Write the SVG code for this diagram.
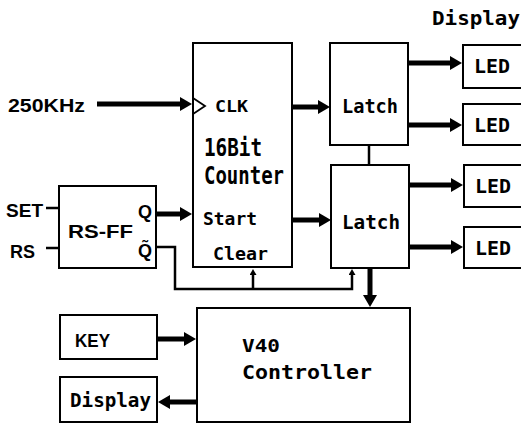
<svg xmlns="http://www.w3.org/2000/svg" width="521" height="424" viewBox="0 0 521 424">
  <style>
    .box { fill: #fff; stroke: #000; stroke-width: 2; }
    .thick { fill: none; stroke: #000; stroke-width: 5; marker-end: url(#bigArrow); }
    .thin { fill: none; stroke: #000; stroke-width: 2.5; }
    .thinarrow { fill: none; stroke: #000; stroke-width: 2.5; marker-end: url(#smallArrow); }
    .mono { font-family: "DejaVu Sans Mono", "Liberation Mono", monospace; font-weight: bold; fill: #000; }
    .sans { font-family: "Liberation Sans", Arial, sans-serif; font-weight: bold; fill: #000; }
  </style>
  <defs>
    <marker id="bigArrow" markerUnits="userSpaceOnUse" markerWidth="12" markerHeight="14" refX="0" refY="7" orient="auto">
      <path d="M0,0 L12,7 L0,14 z" fill="#000"/>
    </marker>
    <marker id="smallArrow" markerUnits="userSpaceOnUse" markerWidth="6" markerHeight="7" refX="0" refY="3.5" orient="auto">
      <path d="M0,0 L6,3.5 L0,7 z" fill="#000"/>
    </marker>
  </defs>

  <text class="mono" x="432" y="25" font-size="19" textLength="88" lengthAdjust="spacingAndGlyphs">Display</text>
  <text class="sans" x="8" y="112" font-size="18" textLength="77" lengthAdjust="spacingAndGlyphs">250KHz</text>
  <text class="sans" x="6" y="217" font-size="19" textLength="37" lengthAdjust="spacingAndGlyphs">SET</text>
  <text class="sans" x="10" y="258" font-size="19" textLength="25" lengthAdjust="spacingAndGlyphs">RS</text>

  <g id="counter">
    <rect class="box" x="193" y="43" width="99" height="224"/>
    <path d="M193,98 L205,106 L193,114" fill="none" stroke="#000" stroke-width="1.8"/>
    <text class="mono" x="215" y="112" font-size="16" textLength="33" lengthAdjust="spacingAndGlyphs">CLK</text>
    <text class="mono" x="204" y="156" font-size="25" textLength="58" lengthAdjust="spacingAndGlyphs">16Bit</text>
    <text class="mono" x="204" y="184" font-size="25" textLength="80" lengthAdjust="spacingAndGlyphs">Counter</text>
    <text class="mono" x="203" y="225" font-size="17" textLength="54" lengthAdjust="spacingAndGlyphs">Start</text>
    <text class="mono" x="213" y="260" font-size="18" textLength="55" lengthAdjust="spacingAndGlyphs">Clear</text>
  </g>

  <g id="rsff">
    <rect class="box" x="59" y="186" width="97" height="82"/>
    <text class="sans" x="68" y="238" font-size="19" textLength="65" lengthAdjust="spacingAndGlyphs">RS-FF</text>
    <text class="sans" x="138" y="218" font-size="18" textLength="14" lengthAdjust="spacingAndGlyphs">Q</text>
    <text class="sans" x="138" y="257" font-size="18" font-family="DejaVu Sans, sans-serif">Q̃</text>
  </g>

  <g id="latch1">
    <rect class="box" x="330" y="43" width="78" height="102"/>
    <text class="mono" x="342" y="113" font-size="20" textLength="56" lengthAdjust="spacingAndGlyphs">Latch</text>
  </g>
  <g id="latch2">
    <rect class="box" x="331" y="165" width="78" height="103"/>
    <text class="mono" x="342" y="229" font-size="20" textLength="58" lengthAdjust="spacingAndGlyphs">Latch</text>
  </g>

  <g id="led1">
    <rect class="box" x="463" y="45" width="70" height="43"/>
    <text class="mono" x="474" y="73" font-size="20" textLength="36" lengthAdjust="spacingAndGlyphs">LED</text>
  </g>
  <g id="led2">
    <rect class="box" x="463" y="104" width="70" height="41"/>
    <text class="mono" x="474" y="132" font-size="20" textLength="36" lengthAdjust="spacingAndGlyphs">LED</text>
  </g>
  <g id="led3">
    <rect class="box" x="464" y="165" width="70" height="42"/>
    <text class="mono" x="475" y="193" font-size="20" textLength="36" lengthAdjust="spacingAndGlyphs">LED</text>
  </g>
  <g id="led4">
    <rect class="box" x="464" y="227" width="70" height="41"/>
    <text class="mono" x="475" y="255" font-size="20" textLength="36" lengthAdjust="spacingAndGlyphs">LED</text>
  </g>

  <g id="v40">
    <rect class="box" x="197" y="308" width="213" height="114"/>
    <text class="mono" x="242" y="352" font-size="18" textLength="38" lengthAdjust="spacingAndGlyphs">V40</text>
    <text class="mono" x="242" y="379" font-size="19" textLength="130" lengthAdjust="spacingAndGlyphs">Controller</text>
  </g>

  <g id="key">
    <rect class="box" x="60" y="315" width="97" height="44"/>
    <text class="sans" x="75" y="347" font-size="18" textLength="35" lengthAdjust="spacingAndGlyphs">KEY</text>
  </g>

  <g id="display">
    <rect class="box" x="60" y="377" width="97" height="45"/>
    <text class="mono" x="70" y="407" font-size="20" textLength="81" lengthAdjust="spacingAndGlyphs">Display</text>
  </g>

  <g id="connectors">
    <line class="thick" x1="97" y1="104" x2="180" y2="104"/>
    <line class="thick" x1="156" y1="214" x2="180" y2="214"/>
    <line class="thick" x1="292" y1="107" x2="318" y2="107"/>
    <line class="thick" x1="292" y1="220" x2="319" y2="220"/>
    <line class="thick" x1="408" y1="63" x2="450" y2="63"/>
    <line class="thick" x1="408" y1="125" x2="450" y2="125"/>
    <line class="thick" x1="409" y1="185" x2="451" y2="185"/>
    <line class="thick" x1="409" y1="247" x2="451" y2="247"/>
    <line class="thick" x1="370" y1="268" x2="370" y2="295"/>
    <line class="thick" x1="157" y1="339" x2="184" y2="339"/>
    <line class="thick" x1="197" y1="402" x2="170" y2="402"/>
    <line class="thin" x1="46" y1="208" x2="59" y2="208"/>
    <line class="thin" x1="46" y1="248" x2="59" y2="248"/>
    <line class="thin" x1="369" y1="145" x2="369" y2="165"/>
    <path class="thinarrow" d="M156,247 L175,247 L175,289 L352,289 L352,275"/>
    <line class="thinarrow" x1="253" y1="289" x2="253" y2="275"/>
  </g>
</svg>
